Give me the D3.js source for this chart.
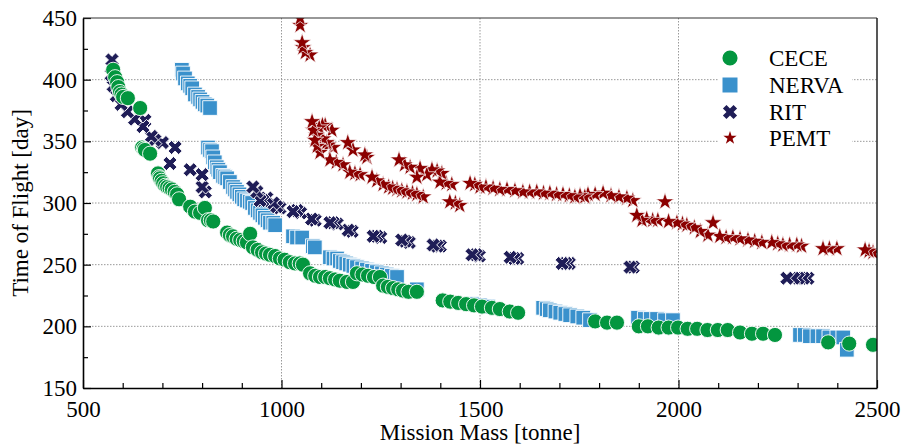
<!DOCTYPE html>
<html>
<head>
<meta charset="utf-8">
<script src="https://cdn.jsdelivr.net/npm/d3@7"></script>
<style>
  body { margin: 0; background: #fff; }
  text { font-family: "Liberation Serif", "Times New Roman", serif; fill: #000; }
</style>
</head>
<body>
<svg id="chart" width="901" height="446"></svg>
<script>
// ---- data (mission mass [tonne], time of flight [day]) ----
var ceceMass = [576,581,586,589,593,597,601,613,644,649,653,656,669,689,692,694,698,702,707,712,718,724,731,737,742,770,782,795,807,815,822,828,863,870,878,887,896,905,913,921,928,940,951,961,971,984,996,1008,1021,1034,1046,1054,1072,1085,1097,1110,1122,1135,1147,1165,1180,1190,1204,1218,1233,1248,1256,1268,1281,1294,1306,1320,1341,1406,1425,1445,1465,1485,1505,1530,1550,1575,1596,1790,1820,1845,1900,1923,1950,1975,1999,2023,2047,2073,2099,2124,2155,2185,2213,2243,2377,2430,2490];
var ceceTof  = [408,402,398,394,390,388,386,385,377,345,344,343,340,324,321,320,318,316,314,313,312,311,309,307,303,297,293,292,296,286,286,285,276,274,273,271,270,269,268,275,264,262,260,259,258,257,255,254,252,251,251,250,243,241,240,240,239,238,237,236,236,243,242,241,240,240,233,232,231,230,229,228,228,221,220,219,218,217,216,215,214,212,211,204,203,203,200,200,199,199,199,198,198,197,197,197,195,194,194,193,187,186,185];

var nervaMass = [749,752,757,764,770,775,782,790,795,801,807,813,820,815,820,825,828,832,837,841,845,853,858,863,870,878,883,888,894,900,906,913,920,926,933,940,946,952,958,965,971,979,984,1029,1039,1052,1079,1084,1122,1131,1140,1147,1155,1163,1172,1181,1190,1203,1215,1228,1240,1253,1265,1278,1291,1341,1480,1500,1520,1659,1668,1676,1690,1702,1715,1727,1745,1760,1777,1898,1915,1930,1946,1966,1986,2306,2318,2331,2350,2364,2380,2400,2415,2424];
var nervaTof  = [408,405,401,397,395,393,388,386,384,382,380,379,377,345,343,342,337,333,329,327,325,322,321,320,317,313,311,309,307,305,303,302,301,300,296,294,292,290,288,286,284,284,282,273,272,272,265,264,256,255,255,253,252,251,250,249,248,247,246,245,244,243,242,241,240,230,218,217,216,215,214,213,212,211,210,209,208,207,205,207,206,206,206,205,205,193,193,192,192,192,191,191,191,181];

var ritMass = [573,571,576,584,596,612,630,651,656,672,681,700,719,732,770,800,800,808,928,938,946,953,963,979,988,996,1029,1039,1048,1076,1085,1122,1130,1140,1168,1178,1231,1240,1250,1303,1312,1322,1382,1392,1400,1480,1490,1498,1576,1586,1595,1707,1716,1725,1878,1886,2273,2290,2302,2315,2326];
var ritTof  = [416,404,395,387,380,374,368,362,367,354,351,349,332,345,327,323,313,309,313,309,302,302,304,300,297,296,293,294,292,287,286,284,284,283,278,277,273,273,272,270,269,268,266,265,265,258,258,257,256,255,255,251,251,251,248,248,239,239,239,239,239];

var pemtMass = [1047,1047,1052,1054,1060,1072,1077,1080,1084,1088,1090,1095,1097,1103,1105,1110,1114,1118,1122,1127,1130,1138,1155,1167,1172,1180,1185,1198,1210,1215,1228,1240,1256,1270,1280,1291,1296,1303,1310,1316,1324,1330,1341,1341,1349,1357,1366,1379,1392,1399,1404,1415,1424,1429,1438,1449,1475,1487,1500,1515,1533,1550,1568,1588,1608,1625,1643,1660,1676,1693,1709,1725,1739,1752,1764,1772,1790,1810,1830,1850,1870,1885,1895,1908,1920,1935,1948,1966,1975,1996,2010,2021,2040,2055,2074,2087,2104,2120,2137,2155,2175,2192,2210,2235,2250,2263,2280,2298,2310,2364,2380,2399,2470,2480,2490];
var pemtTof  = [450,444,430,426,422,420,366,359,351,355,346,361,341,363,352,363,349,347,335,359,345,333,331,349,325,343,324,323,339,337,321,318,315,313,312,311,335,310,331,309,329,308,307,321,328,305,323,327,326,317,324,316,301,315,300,298,316,315,313,313,312,311,311,310,309,309,309,308,308,307,307,306,305,306,305,307,307,308,306,305,304,302,290,286,287,286,286,301,285,284,283,282,280,277,274,284,273,272,272,271,270,269,268,268,267,266,266,266,265,263,263,263,262,261,260];

var seriesNames = ["CECE", "NERVA", "RIT", "PEMT"];
var seriesColors = ["#03963f", "#3a91cc", "#1f1d57", "#8b0000"];

var xTicks = [500, 1000, 1500, 2000, 2500];
var yTicks = [150, 200, 250, 300, 350, 400, 450];

// ---- setup ----
var svg = d3.select("#chart");
var width = +svg.attr("width"),
    height = +svg.attr("height");
var margin = { top: 18, right: 24, bottom: 58, left: 83 };
var plotW = width - margin.left - margin.right,
    plotH = height - margin.top - margin.bottom;

var x = d3.scaleLinear().domain([500, 2500]).range([margin.left, margin.left + plotW]);
var y = d3.scaleLinear().domain([150, 450]).range([margin.top + plotH, margin.top]);

svg.append("defs").append("clipPath").attr("id", "plotclip")
    .append("rect")
    .attr("x", margin.left).attr("y", margin.top)
    .attr("width", plotW).attr("height", plotH);

// grid
var grid = svg.append("g").attr("class", "grid");
grid.selectAll(".gx")
    .data(xTicks.slice(1, -1))
    .enter().append("line")
    .attr("x1", function(d) { return x(d); }).attr("x2", function(d) { return x(d); })
    .attr("y1", margin.top).attr("y2", margin.top + plotH);
grid.selectAll(".gy")
    .data(yTicks.slice(1, -1))
    .enter().append("line")
    .attr("y1", function(d) { return y(d); }).attr("y2", function(d) { return y(d); })
    .attr("x1", margin.left).attr("x2", margin.left + plotW);
grid.selectAll("line")
    .attr("stroke", "#9a9a9a")
    .attr("stroke-width", 1)
    .attr("stroke-dasharray", "1.5,1.5");

// ---- markers ----
var circleSym = d3.symbol().type(d3.symbolCircle).size(180);
var squareSym = d3.symbol().type(d3.symbolSquare).size(215);
var crossSym = d3.symbol().type(d3.symbolCross).size(125);
var starSym = d3.symbol().type(d3.symbolStar).size(98);
var symbols = [circleSym, squareSym, crossSym, starSym];
var rotations = [0, 0, 45, 0];

function zipSeries(mass, tof) {
    return mass.map(function(m, i) { return { m: m, t: tof[i] }; });
}
var seriesData = [
    zipSeries(ceceMass, ceceTof),
    zipSeries(nervaMass, nervaTof),
    zipSeries(ritMass, ritTof).reverse(),
    zipSeries(pemtMass, pemtTof).reverse()
];

var marks = svg.append("g").attr("clip-path", "url(#plotclip)");
// draw order: NERVA, RIT, CECE, PEMT
[1, 2, 0, 3].forEach(function(k) {
    marks.append("g")
        .selectAll("path")
        .data(seriesData[k])
        .enter()
        .append("path")
        .attr("d", symbols[k])
        .attr("transform", function(d) {
            return "translate(" + x(d.m) + "," + y(d.t) + ") rotate(" + rotations[k] + ")";
        })
        .attr("fill", seriesColors[k])
        .attr("stroke", "#fff")
        .attr("stroke-width", k === 3 ? 0.7 : 0.9);
});

// ---- axes ----
var xMinor = d3.range(500, 2501, 100).filter(function(v) { return v % 500 !== 0; });
var yMinor = d3.range(150, 451, 25).filter(function(v) { return v % 50 !== 0; });

svg.append("g")
    .attr("transform", "translate(0," + (margin.top + plotH) + ")")
    .call(d3.axisBottom(x).tickValues(xMinor).tickSize(-5).tickFormat(""))
    .call(function(g) { g.select(".domain").remove(); });
svg.append("g")
    .attr("transform", "translate(" + margin.left + ",0)")
    .call(d3.axisLeft(y).tickValues(yMinor).tickSize(-5).tickFormat(""))
    .call(function(g) { g.select(".domain").remove(); });

var xAxis = svg.append("g")
    .attr("transform", "translate(0," + (margin.top + plotH) + ")")
    .call(d3.axisBottom(x).tickValues(xTicks).tickSizeInner(-8).tickSizeOuter(0).tickPadding(13).tickFormat(d3.format("d")));
var yAxis = svg.append("g")
    .attr("transform", "translate(" + margin.left + ",0)")
    .call(d3.axisLeft(y).tickValues(yTicks).tickSizeInner(-8).tickSizeOuter(0).tickPadding(6).tickFormat(d3.format("d")));

[xAxis, yAxis].forEach(function(g) {
    g.selectAll("text").style("font-size", "23px").attr("fill", "#000");
    g.select(".domain").attr("stroke", "#000").attr("stroke-width", 1.6);
});
svg.selectAll(".tick line").attr("stroke", "#000").attr("stroke-width", 1.2);

// top and right frame
svg.append("line")
    .attr("x1", margin.left).attr("x2", margin.left + plotW)
    .attr("y1", margin.top).attr("y2", margin.top)
    .attr("stroke", "#333").attr("stroke-width", 1.2);
svg.append("line")
    .attr("x1", margin.left + plotW).attr("x2", margin.left + plotW)
    .attr("y1", margin.top).attr("y2", margin.top + plotH)
    .attr("stroke", "#111").attr("stroke-width", 1.4);

// axis titles
svg.append("text")
    .attr("x", 480).attr("y", 440)
    .attr("text-anchor", "middle")
    .style("font-size", "23px")
    .text("Mission Mass [tonne]");
svg.append("text")
    .attr("transform", "translate(28,203) rotate(-90)")
    .attr("text-anchor", "middle")
    .style("font-size", "23px")
    .text("Time of Flight [day]");

// ---- legend ----
var legend = svg.append("g");
legend.append("rect")
    .attr("x", 718).attr("y", 38)
    .attr("width", 134).attr("height", 114)
    .attr("fill", "#fff");

var legendRows = [58, 85, 112, 138];
var legendSyms = [
    d3.symbol().type(d3.symbolCircle).size(180),
    d3.symbol().type(d3.symbolSquare).size(225),
    d3.symbol().type(d3.symbolCross).size(125),
    d3.symbol().type(d3.symbolStar).size(55)
];
seriesNames.forEach(function(name, k) {
    legend.append("path")
        .attr("d", legendSyms[k])
        .attr("transform", "translate(730," + legendRows[k] + ") rotate(" + rotations[k] + ")")
        .attr("fill", seriesColors[k]);
    legend.append("text")
        .attr("x", 769).attr("y", legendRows[k] + 8)
        .style("font-size", "23px")
        .text(name);
});
</script>
</body>
</html>
